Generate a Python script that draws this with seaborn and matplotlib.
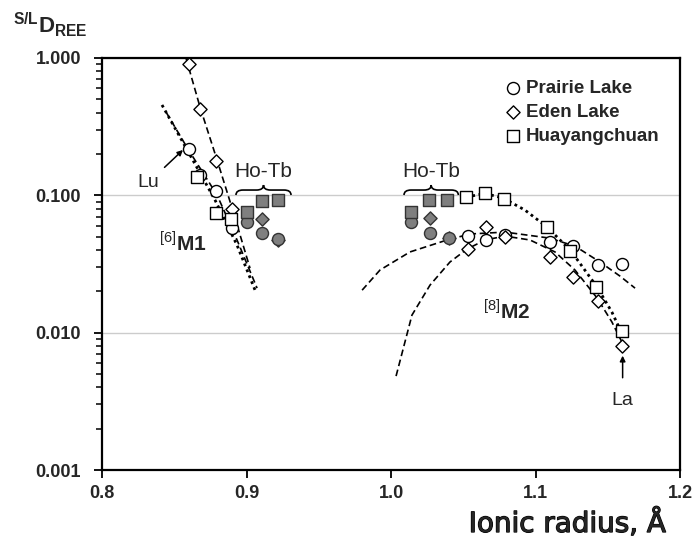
import numpy as np
import pandas as pd
import seaborn as sns
import matplotlib.pyplot as plt
import matplotlib.patheffects as pe
from matplotlib.path import Path
from matplotlib.patches import PathPatch
from matplotlib.transforms import IdentityTransform

# ---- data (ionic radius in A, S/L D_REE) ----
# [6]M1 site, open symbols
prairie_m1_r = [0.860, 0.868, 0.879, 0.890]
prairie_m1_d = [0.216, 0.140, 0.108, 0.0575]
eden_m1_r = [0.860, 0.868, 0.879, 0.890]
eden_m1_d = [0.90, 0.425, 0.179, 0.080]
huayang_m1_r = [0.866, 0.879, 0.889]
huayang_m1_d = [0.136, 0.0747, 0.0672]

# [8]M2 site, open symbols
prairie_m2_r = [1.053, 1.066, 1.079, 1.110, 1.126, 1.143, 1.160]
prairie_m2_d = [0.0505, 0.0472, 0.0514, 0.0459, 0.0427, 0.031, 0.0316]
eden_m2_r = [1.053, 1.066, 1.079, 1.110, 1.126, 1.143, 1.160]
eden_m2_d = [0.0404, 0.059, 0.0499, 0.0355, 0.0255, 0.0171, 0.00798]
huayang_m2_r = [1.052, 1.065, 1.078, 1.108, 1.124, 1.142, 1.160]
huayang_m2_d = [0.0967, 0.1035, 0.0935, 0.059, 0.0395, 0.0215, 0.0102]

# Ho-Tb (grey filled), plotted in both sites
hotb_prairie_r = [0.900, 0.911, 0.922, 1.014, 1.027, 1.040]
hotb_prairie_d = [0.064, 0.0534, 0.048, 0.064, 0.0534, 0.0486]
hotb_eden_r = [0.911, 0.922, 1.027, 1.040]
hotb_eden_d = [0.067, 0.0472, 0.068, 0.0486]
hotb_huayang_r = [0.900, 0.911, 0.922, 1.014, 1.026, 1.0385]
hotb_huayang_d = [0.076, 0.091, 0.092, 0.076, 0.0924, 0.0924]

# fitted lattice-strain curves (traced)
fit_eden_m1_r = [0.8581, 0.8678, 0.8796, 0.8900, 0.8976, 0.9024]
fit_eden_m1_d = [1.0, 0.440, 0.181, 0.0808, 0.0435, 0.0295]
fit_prairie_m1_r = [0.8443, 0.8595, 0.8796, 0.8920, 0.9073]
fit_prairie_m1_d = [0.404, 0.217, 0.1005, 0.0514, 0.0211]
fit_huayang_m1_r = [0.8415, 0.8609, 0.8782, 0.8934, 0.9059]
fit_huayang_m1_d = [0.455, 0.1966, 0.0924, 0.0435, 0.0204]

fit_prairie_m2_r = [0.980, 0.9924, 1.0131, 1.0388, 1.0547, 1.0789, 1.1093,
                    1.1273, 1.1446, 1.1585, 1.1689]
fit_prairie_m2_d = [0.0204, 0.0286, 0.0387, 0.0473, 0.0523, 0.0540, 0.0489,
                    0.0427, 0.0327, 0.0258, 0.0211]
fit_eden_m2_r = [1.0035, 1.0145, 1.0270, 1.0408, 1.0526, 1.0651, 1.0789,
                 1.0962, 1.1135, 1.1273, 1.1426, 1.1529, 1.1619]
fit_eden_m2_d = [0.00483, 0.01343, 0.0222, 0.0327, 0.0406, 0.0473, 0.0505,
                 0.0473, 0.0387, 0.0286, 0.0179, 0.01195, 0.00772]
fit_huayang_m2_r = [1.0519, 1.0651, 1.0775, 1.0927, 1.1080, 1.1246, 1.1426,
                    1.1529, 1.1619]
fit_huayang_m2_d = [0.0972, 0.1031, 0.0956, 0.0781, 0.0588, 0.0393, 0.0215,
                    0.0141, 0.00883]

x_ticks = [0.8, 0.9, 1.0, 1.1, 1.2]
x_labels = ['0.8', '0.9', '1.0', '1.1', '1.2']
y_ticks = [0.001, 0.01, 0.1, 1.0]
y_labels = ['0.001', '0.010', '0.100', '1.000']

sns.set_style('white')
plt.rcParams['font.family'] = ['Liberation Sans', 'DejaVu Sans']
plt.rcParams['mathtext.fontset'] = 'custom'
plt.rcParams['mathtext.rm'] = 'Liberation Sans'
plt.rcParams['mathtext.bf'] = 'Liberation Sans:bold'

fig = plt.figure(figsize=(6.96, 5.40), dpi=100)
ax = fig.add_axes([0.1466, 0.1296, 0.8304, 0.763])
ax.set_yscale('log')
ax.set_xlim(0.8, 1.2)
ax.set_ylim(0.001, 1.0)

# curves
dash = (0, (4, 2.2))
dot = (0, (1, 1.3))
for r, d, ls, lw in [(fit_eden_m1_r, fit_eden_m1_d, dash, 1.2),
                     (fit_prairie_m1_r, fit_prairie_m1_d, dash, 1.2),
                     (fit_huayang_m1_r, fit_huayang_m1_d, dot, 2.0),
                     (fit_prairie_m2_r, fit_prairie_m2_d, dash, 1.2),
                     (fit_eden_m2_r, fit_eden_m2_d, dash, 1.2),
                     (fit_huayang_m2_r, fit_huayang_m2_d, dot, 2.0)]:
    sns.lineplot(x=r, y=d, sort=False, color='black', linestyle=ls,
                 linewidth=lw, ax=ax, zorder=2)

# grey Ho-Tb points
grey = '#7f7f7f'
sns.scatterplot(x=hotb_eden_r, y=hotb_eden_d, marker='D', s=45, color=grey,
                edgecolor='#333333', linewidth=1, ax=ax, zorder=3)
sns.scatterplot(x=hotb_prairie_r, y=hotb_prairie_d, marker='o', s=75, color=grey,
                edgecolor='#333333', linewidth=1, ax=ax, zorder=3)
sns.scatterplot(x=hotb_huayang_r, y=hotb_huayang_d, marker='s', s=65, color=grey,
                edgecolor='#333333', linewidth=1, ax=ax, zorder=4)

# open symbols
open_kw = dict(color='white', edgecolor='black', linewidth=1, ax=ax, zorder=5)
sns.scatterplot(x=prairie_m1_r, y=prairie_m1_d, marker='o', s=75,
                label='Prairie Lake', **open_kw)
sns.scatterplot(x=eden_m1_r, y=eden_m1_d, marker='D', s=45,
                label='Eden Lake', **open_kw)
sns.scatterplot(x=huayang_m1_r, y=huayang_m1_d, marker='s', s=65,
                label='Huayangchuan', **open_kw)
sns.scatterplot(x=prairie_m2_r, y=prairie_m2_d, marker='o', s=75, **open_kw)
sns.scatterplot(x=eden_m2_r, y=eden_m2_d, marker='D', s=45, **open_kw)
sns.scatterplot(x=huayang_m2_r, y=huayang_m2_d, marker='s', s=65, **open_kw)

# axes styling
ax.set_xticks(x_ticks)
ax.set_xticklabels(x_labels, fontweight='bold', fontsize=13)
ax.set_yticks(y_ticks)
ax.set_yticklabels(y_labels, fontweight='bold', fontsize=13)
ax.tick_params(which='major', direction='out', length=6, width=1.3, color='black',
               left=True, bottom=True)
ax.tick_params(axis='y', which='major', pad=9)
ax.tick_params(axis='x', which='major', pad=5)
ax.tick_params(which='minor', axis='y', direction='out', length=4, width=1.1,
               color='black', left=True)
ax.tick_params(which='minor', axis='x', bottom=False)
ax.yaxis.grid(True, which='major', color='#cccccc', linewidth=1)
ax.xaxis.grid(False)
ax.set_axisbelow(True)
for sp in ax.spines.values():
    sp.set_color('black')
    sp.set_linewidth(1.6)
ax.set_xlabel('')
ax.set_ylabel('')

leg = ax.legend(loc='upper left', bbox_to_anchor=(0.678, 0.969), frameon=False,
                prop={'weight': 'bold', 'size': 13.5}, handlelength=1.0,
                handletextpad=0.2, borderpad=0, labelspacing=0.35)

# annotations
ax.annotate('Lu', xy=(0.856, 0.214), xytext=(0.8318, 0.123), fontsize=14,
            ha='center', va='center',
            arrowprops=dict(arrowstyle='-|>', color='black', lw=1.1,
                            mutation_scale=8, shrinkA=4, shrinkB=0))
ax.annotate('La', xy=(1.1603, 0.0068), xytext=(1.1603, 0.0032), fontsize=14,
            ha='center', va='center',
            arrowprops=dict(arrowstyle='-|>', color='black', lw=1.1,
                            mutation_scale=8, shrinkA=8, shrinkB=0))
ax.text(0.856, 0.045, r'$^{[6]}\mathbf{M1}$', fontsize=15, ha='center', va='center')
ax.text(1.080, 0.0146, r'$^{[8]}\mathbf{M2}$', fontsize=15, ha='center', va='center')

brace_r = [(0.8927, 0.9308), (1.009, 1.0466)]
brace_d = 0.1005
for x0, x1 in brace_r:
    X0, Y0 = ax.transData.transform((x0, brace_d))
    X1, _ = ax.transData.transform((x1, brace_d))
    Xm = (X0 + X1) / 2
    h, q = 10, 7
    verts = [(X0, Y0), (X0, Y0 + h / 2), (X0 + q, Y0 + h / 2),
             (Xm - q, Y0 + h / 2), (Xm, Y0 + h / 2), (Xm, Y0 + h),
             (Xm, Y0 + h / 2), (Xm + q, Y0 + h / 2),
             (X1 - q, Y0 + h / 2), (X1, Y0 + h / 2), (X1, Y0)]
    codes = [Path.MOVETO, Path.CURVE3, Path.CURVE3, Path.LINETO,
             Path.CURVE3, Path.CURVE3, Path.CURVE3, Path.CURVE3,
             Path.LINETO, Path.CURVE3, Path.CURVE3]
    fig.patches.append(PathPatch(Path(verts, codes), transform=IdentityTransform(),
                                 fill=False, lw=1.2, edgecolor='black'))
    ax.text((x0 + x1) / 2, 0.148, 'Ho-Tb', fontsize=15, ha='center', va='center')

fig.text(13 / 696, 1 - 33 / 540, r'$^{\mathbf{S/L}}\mathbf{D}_{\mathbf{REE}}$',
         fontsize=16, ha='left', va='baseline')
fig.text(666 / 696, 1 - 532 / 540, 'Ionic radius, Å', fontsize=20,
         family=['DejaVu Sans'], ha='right', va='baseline',
         path_effects=[pe.withStroke(linewidth=0.9, foreground='black')])

fig.savefig('out.png', dpi=100)
